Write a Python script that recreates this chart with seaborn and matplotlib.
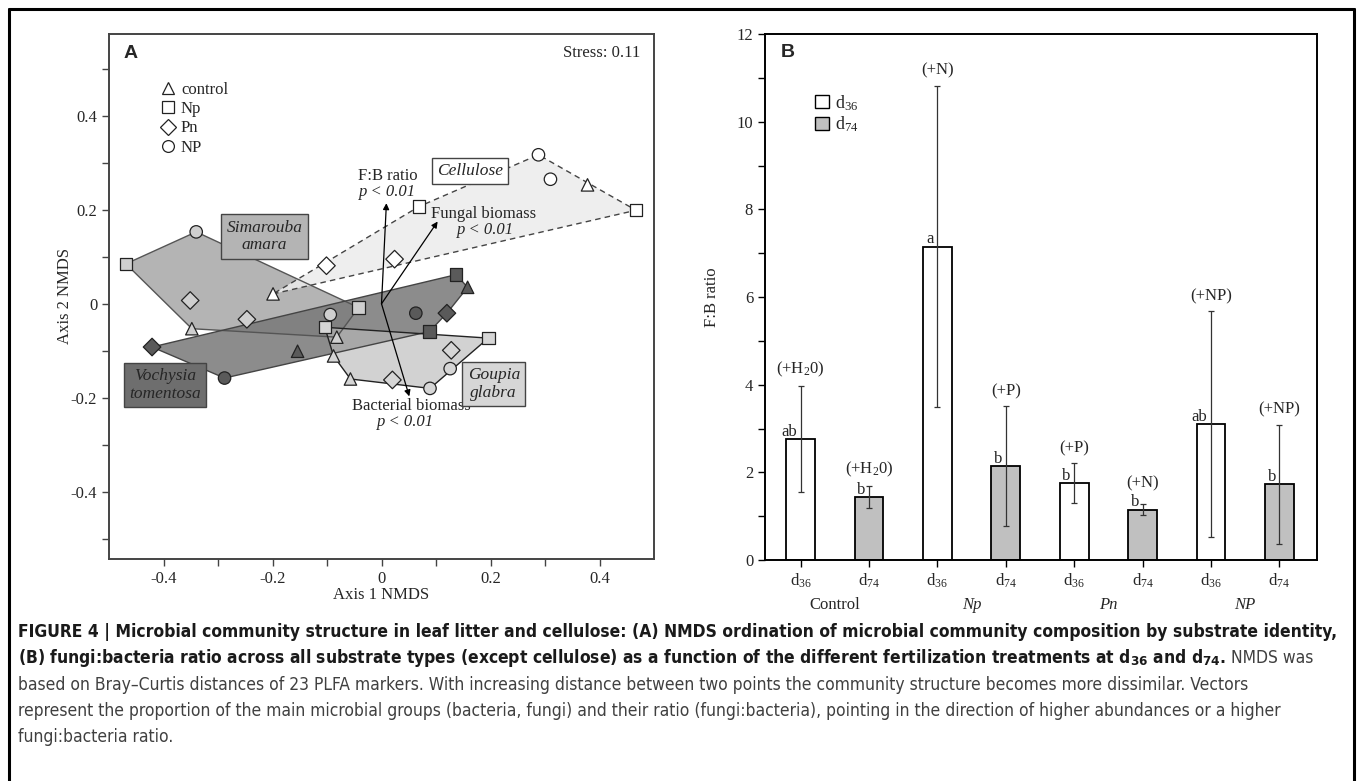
import numpy as np
import pandas as pd
import matplotlib
matplotlib.use('Agg')
import matplotlib.pyplot as plt
import matplotlib.colors as mcolors
import seaborn as sns
from matplotlib import font_manager
from matplotlib.lines import Line2D
from matplotlib.patches import Polygon, Patch
from matplotlib.ticker import MultipleLocator, FuncFormatter, FixedLocator

# ---- panel A: NMDS scores ----
substrate = (['Cellulose'] * 8 + ['Simarouba'] * 8 + ['Vochysia'] * 8 + ['Goupia'] * 8)
treatment = ['control', 'Np', 'NP', 'Np', 'Pn', 'NP', 'control', 'Pn',
             'Np', 'NP', 'Np', 'control', 'control', 'Pn', 'Pn', 'NP',
             'Pn', 'NP', 'Np', 'control', 'Pn', 'Np', 'NP', 'control',
             'Np', 'Np', 'control', 'control', 'Pn', 'Pn', 'NP', 'NP']
nmds1 = [-0.199, 0.069, 0.288, 0.467, 0.024, 0.310, 0.378, -0.101,
         -0.469, -0.340, -0.042, -0.082, -0.348, -0.351, -0.247, -0.094,
         -0.421, -0.288, 0.137, 0.158, 0.120, 0.088, 0.063, -0.154,
         -0.104, 0.196, -0.088, -0.057, 0.020, 0.128, 0.089, 0.126]
nmds2 = [0.021, 0.207, 0.317, 0.199, 0.095, 0.265, 0.253, 0.081,
         0.085, 0.153, -0.008, -0.071, -0.053, 0.007, -0.033, -0.023,
         -0.092, -0.158, 0.062, 0.035, -0.020, -0.059, -0.020, -0.101,
         -0.050, -0.073, -0.111, -0.160, -0.162, -0.099, -0.180, -0.138]

vec_names = ['F:B ratio', 'Fungal biomass', 'Bacterial biomass']
vec_x = [0.009, 0.103, 0.051]
vec_y = [0.214, 0.175, -0.197]

# ---- panel B: F:B ratio ----
groups = ['Control', 'Np', 'Pn', 'NP']
days = ['d36', 'd74']
fb_mean = [2.76, 1.43, 7.15, 2.14, 1.75, 1.15, 3.10, 1.73]
fb_err = [1.20, 0.25, 3.67, 1.37, 0.46, 0.12, 2.57, 1.36]
letters = ['ab', 'b', 'a', 'b', 'b', 'b', 'ab', 'b']
added = ['(+H$_2$0)', '(+H$_2$0)', '(+N)', '(+P)', '(+P)', '(+N)', '(+NP)', '(+NP)']

dfa = pd.DataFrame({'x': nmds1, 'y': nmds2, 'substrate': substrate, 'treatment': treatment})
dfb = pd.DataFrame({'bar': [g + ' ' + d for g in groups for d in days],
                    'day': days * 4, 'ratio': fb_mean})

# fonts
sns.set_style('ticks')
fonts = font_manager.fontManager.ttflist
installed = {f.name for f in fonts}
cap_stretch = 'normal'
if 'Liberation Sans Narrow' in installed:
    cap_font = 'Liberation Sans Narrow'
elif any(f.name == 'DejaVu Sans' and f.stretch == 'condensed' for f in fonts):
    cap_font, cap_stretch = 'DejaVu Sans', 'condensed'
else:
    cap_font = 'Liberation Sans'
plt.rcParams['font.family'] = ['Liberation Serif', 'DejaVu Serif']
plt.rcParams['mathtext.fontset'] = 'custom'
plt.rcParams['mathtext.rm'] = 'Liberation Serif'
plt.rcParams['mathtext.it'] = 'Liberation Serif:italic'
plt.rcParams['mathtext.bf'] = cap_font + ':bold'
plt.rcParams['axes.unicode_minus'] = False

W, H = 1358, 781
fig = plt.figure(figsize=(W / 100, H / 100), dpi=100)
axA = fig.add_axes([109 / W, 1 - 559 / H, 545 / W, 525 / H])
axB = fig.add_axes([765 / W, 1 - 560 / H, 552 / W, 526 / H])

# ================= panel A =================
fills = {'Simarouba': ('#b4b4b4', 1.0), 'Vochysia': ('#787878', 0.85),
         'Goupia': ('#b9b9b9', 0.64), 'Cellulose': ('#ececec', 0.85)}
edges = {'Simarouba': '#555555', 'Vochysia': '#444444', 'Goupia': '#222222', 'Cellulose': '#444444'}
marker_fill = {'Cellulose': 'white', 'Simarouba': '#cfcfcf', 'Vochysia': '#5a5a5a', 'Goupia': '#d6d6d6'}


def hull(pts):
    pts = sorted(map(tuple, pts))

    def cross(o, a, b):
        return (a[0] - o[0]) * (b[1] - o[1]) - (a[1] - o[1]) * (b[0] - o[0])
    lower, upper = [], []
    for p in pts:
        while len(lower) >= 2 and cross(lower[-2], lower[-1], p) <= 0:
            lower.pop()
        lower.append(p)
    for p in reversed(pts):
        while len(upper) >= 2 and cross(upper[-2], upper[-1], p) <= 0:
            upper.pop()
        upper.append(p)
    return np.array(lower[:-1] + upper[:-1])


order = ['Simarouba', 'Vochysia', 'Goupia', 'Cellulose']
hulls = {s: hull(dfa.loc[dfa.substrate == s, ['x', 'y']].values) for s in order}
for s in order:
    c, a = fills[s]
    axA.add_patch(Polygon(hulls[s], closed=True, fc=mcolors.to_rgba(c, a), ec='none', zorder=1))
for s in order:
    ls = (0, (4, 3)) if s == 'Cellulose' else '-'
    axA.add_patch(Polygon(hulls[s], closed=True, fc='none', ec=edges[s], lw=1.0, ls=ls, zorder=2))

for vx, vy in zip(vec_x, vec_y):
    axA.annotate('', xy=(vx, vy), xytext=(0, 0),
                 arrowprops=dict(arrowstyle='-|>', lw=0.9, color='black', mutation_scale=9,
                                 shrinkA=0, shrinkB=0), zorder=3)

marks = {'control': '^', 'Np': 's', 'Pn': 'D', 'NP': 'o'}
sns.scatterplot(data=dfa, x='x', y='y', hue='substrate', style='treatment', markers=marks,
                palette=marker_fill, edgecolor='#222222', linewidth=0.9, s=80,
                legend=False, ax=axA, zorder=4)

# vector labels
axA.text(0.011, 0.271, vec_names[0], ha='center', va='center', fontsize=12)
axA.text(0.011, 0.237, 'p < 0.01', ha='center', va='center', fontsize=12, style='italic')
axA.text(0.091, 0.191, vec_names[1], ha='left', va='center', fontsize=12)
axA.text(0.191, 0.157, 'p < 0.01', ha='center', va='center', fontsize=12, style='italic')
axA.text(0.054, -0.218, vec_names[2], ha='center', va='center', fontsize=12)
axA.text(0.045, -0.252, 'p < 0.01', ha='center', va='center', fontsize=12, style='italic')

# substrate labels
box_kw = dict(boxstyle='square,pad=0.3', lw=1.0, ec='#444444')
axA.text(-0.215, 0.143, 'Simarouba\namara', ha='center', va='center', fontsize=12.5, style='italic',
         linespacing=1.15, bbox=dict(fc='#b4b4b4', **box_kw), zorder=6)
axA.text(-0.397, -0.172, 'Vochysia\ntomentosa', ha='center', va='center', fontsize=12.5, style='italic',
         linespacing=1.15, bbox=dict(fc='#6e6e6e', **box_kw), zorder=6)
axA.text(0.206, -0.171, 'Goupia\nglabra', ha='center', va='center', fontsize=12.5, style='italic',
         linespacing=1.15, bbox=dict(fc='#d6d6d6', **box_kw), zorder=6)
axA.text(0.162, 0.283, 'Cellulose', ha='center', va='center', fontsize=12.5, style='italic',
         bbox=dict(fc='white', **box_kw), zorder=6)

axA.text(0.975, 0.964, 'Stress: 0.11', transform=axA.transAxes, ha='right', va='center', fontsize=12)
axA.text(0.026, 0.962, 'A', transform=axA.transAxes, ha='left', va='center', fontsize=14,
         fontweight='bold', family='Liberation Sans')

leg_h = [Line2D([], [], ls='none', marker=marks[t], mfc='white', mec='#222222', mew=0.9, ms=8.5)
         for t in ['control', 'Np', 'Pn', 'NP']]
axA.legend(leg_h, ['control', 'Np', 'Pn', 'NP'], loc='upper left', bbox_to_anchor=(0.08, 0.925),
           frameon=False, fontsize=12, handlelength=0.8, handletextpad=0.4, labelspacing=0.2,
           borderpad=0)

axA.set_xlim(-0.5, 0.5)
axA.set_ylim(-0.543, 0.574)
fmt = FuncFormatter(lambda v, p: '0' if abs(v) < 1e-9 else f'{v:.1f}')
axA.xaxis.set_major_locator(FixedLocator([-0.4, -0.2, 0, 0.2, 0.4]))
axA.yaxis.set_major_locator(FixedLocator([-0.4, -0.2, 0, 0.2, 0.4]))
axA.xaxis.set_minor_locator(FixedLocator([-0.3, -0.1, 0.1, 0.3]))
axA.yaxis.set_minor_locator(FixedLocator([-0.5, -0.3, -0.1, 0.1, 0.3, 0.5]))
axA.xaxis.set_major_formatter(fmt)
axA.yaxis.set_major_formatter(fmt)
axA.tick_params(which='both', direction='out', length=5, width=1, color='#444444',
                labelsize=12, top=False, right=False)
for sp in axA.spines.values():
    sp.set_color('#444444')
    sp.set_linewidth(1.4)
axA.set_xlabel('Axis 1 NMDS', fontsize=12)
axA.set_ylabel('Axis 2 NMDS', fontsize=12)
axA.xaxis.set_label_coords(0.5, -0.053)
axA.yaxis.set_label_coords(-0.066, 0.5)

# ================= panel B =================
sns.barplot(data=dfb, x='bar', y='ratio', hue='day', dodge=False, order=list(dfb.bar),
            palette={'d36': 'white', 'd74': '#c0c0c0'}, edgecolor='black', linewidth=1.3,
            width=0.42, legend=False, ax=axB, zorder=2)
xs = np.arange(len(fb_mean))
axB.errorbar(xs, fb_mean, yerr=fb_err, fmt='none', ecolor='#333333', elinewidth=0.9,
             capsize=2.5, capthick=0.9, zorder=3)
for i in range(len(fb_mean)):
    axB.text(xs[i] - 0.05, fb_mean[i] - 0.02, letters[i], ha='right', va='bottom', fontsize=12)
    # treatment label sits above the error bar, or above the letter when that is higher
    ytop = max(fb_mean[i] + fb_err[i] + 0.16, fb_mean[i] + 0.42)
    axB.text(xs[i], ytop, added[i], ha='center', va='bottom', fontsize=12)

axB.set_xlim(-0.52, 7.55)
axB.set_ylim(0, 12)
axB.set_xticks(xs)
axB.set_xticklabels(['d$_{36}$', 'd$_{74}$'] * 4)
axB.yaxis.set_major_locator(MultipleLocator(2))
axB.yaxis.set_minor_locator(MultipleLocator(1))
axB.tick_params(which='both', direction='out', length=5, width=1, color='black',
                labelsize=12, top=False, right=False)
for sp in axB.spines.values():
    sp.set_color('black')
    sp.set_linewidth(1.4)
axB.set_xlabel('')
axB.set_ylabel('F:B ratio', fontsize=12)
axB.yaxis.set_label_coords(-0.082, 0.5)
for i, g in enumerate(groups):
    axB.text(2 * i + 0.5, -0.086, g, transform=axB.get_xaxis_transform(), ha='center', va='center',
             fontsize=12, style='normal' if g == 'Control' else 'italic')
axB.text(0.029, 0.964, 'B', transform=axB.transAxes, ha='left', va='center', fontsize=14,
         fontweight='bold', family='Liberation Sans')
leg_p = [Patch(fc='white', ec='black', lw=1.0), Patch(fc='#c0c0c0', ec='black', lw=1.0)]
axB.legend(leg_p, ['d$_{36}$', 'd$_{74}$'], loc='upper left', bbox_to_anchor=(0.075, 0.905),
           frameon=False, fontsize=13, handlelength=0.75, handleheight=0.75, handletextpad=0.35,
           labelspacing=0.1, borderpad=0)

# ================= caption =================
cap1 = ('FIGURE 4 | Microbial community structure in leaf litter and cellulose: (A) NMDS ordination '
        'of microbial community composition by substrate identity,')
cap2 = ('(B) fungi:bacteria ratio across all substrate types (except cellulose) as a function of the '
        'different fertilization treatments at d$_{\\mathbf{36}}$ and d$_{\\mathbf{74}}$.')
cap2b = 'NMDS was'
cap3 = ('based on Bray\u2013Curtis distances of 23 PLFA markers. With increasing distance between two '
        'points the community structure becomes more dissimilar. Vectors')
cap4 = ('represent the proportion of the main microbial groups (bacteria, fungi) and their ratio '
        '(fungi:bacteria), pointing in the direction of higher abundances or a higher')
cap5 = 'fungi:bacteria ratio.'

renderer = fig.canvas.get_renderer()
x0 = 18 / W
cap_kw = dict(family=cap_font, stretch=cap_stretch, ha='left', va='center')
t1 = fig.text(x0, 1 - 632 / H, cap1, fontweight='bold', fontsize=13, color='#1a1a1a', **cap_kw)
w1 = t1.get_window_extent(renderer).width
size = 13 * (1320 / w1)
t1.set_fontsize(size)
t2 = fig.text(x0, 1 - 658 / H, cap2, fontweight='bold', fontsize=size, color='#1a1a1a', **cap_kw)
bb2 = t2.get_window_extent(renderer)
fig.text((bb2.x1 + size * 0.35) / W, 1 - 658 / H, cap2b, fontsize=size, color='#404040', **cap_kw)
for k, txt in enumerate([cap3, cap4, cap5]):
    fig.text(x0, 1 - (685 + 26 * k) / H, txt, fontsize=size, color='#404040', **cap_kw)

# outer frame
for xy in [([9, 9], [9, 790]), ([9, 1354], [9, 9]), ([1354, 1354], [9, 790])]:
    fig.add_artist(Line2D(np.array(xy[0]) / W, 1 - np.array(xy[1]) / H, color='black', lw=2.2))

fig.savefig('out.png', dpi=100)
